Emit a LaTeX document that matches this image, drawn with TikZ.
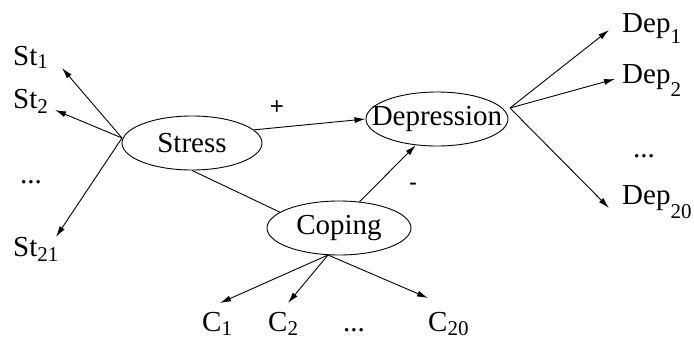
\documentclass[tikz,border=0pt]{standalone}
\usepackage{fontspec}
\setmainfont{Liberation Serif}
\newfontfamily\signfont{Liberation Sans}
\usetikzlibrary{shapes.geometric,arrows.meta}
% subscript lowered by a given amount
\newcommand\lowsub[2]{\raisebox{-#1}{\fontsize{21}{24}\selectfont #2}}

\begin{document}
\begin{tikzpicture}[x=1pt,y=-1pt,
    font=\fontsize{29}{34}\selectfont,
    latent/.style={draw, ellipse, inner xsep=-16pt, inner ysep=0pt, minimum height=54pt, line width=0.9pt},
    leaf/.style={anchor=base west, inner sep=0pt},
    sign/.style={font=\signfont\fontsize{24}{28}\selectfont, inner sep=0pt},
    arr/.style={line width=0.9pt, -{Latex[length=11pt,width=6pt]}}]
    \useasboundingbox (0,0) rectangle (694,341);

    % the three latent variables
    \node[latent, minimum width=140pt] (stress) at (192,143) {Stress};
    \node[latent, minimum width=142pt] (depression) at (437,119) {Depression};
    \node[latent, minimum width=144pt] (coping) at (339,228) {Coping};

    % indicators of stress
    \node[leaf] (st1) at (13,65) {St\lowsub{3pt}{1}};
    \node[leaf] (st2) at (13,108) {St\lowsub{5pt}{2}};
    \node[leaf] (stdots) at (20,183) {...};
    \node[leaf] (st21) at (13,256) {St\lowsub{5pt}{21}};
    \coordinate (st1-tip) at (62,68);
    \coordinate (st2-tip) at (55,110);
    \coordinate (st21-tip) at (56,237);

    % indicators of depression
    \node[leaf] (dep1) at (622,32) {Dep\lowsub{11pt}{1}};
    \node[leaf] (dep2) at (622,83) {Dep\lowsub{13pt}{2}};
    \node[leaf] (depdots) at (633,157) {...};
    \node[leaf] (dep20) at (622,204) {Dep\lowsub{14pt}{20}};
    \coordinate (dep1-tip) at (609,30);
    \coordinate (dep2-tip) at (615,79);
    \coordinate (dep20-tip) at (609,208);

    % indicators of coping
    \node[leaf] (c1) at (202,331) {C\lowsub{4pt}{1}};
    \node[leaf] (c2) at (268,331) {C\lowsub{4pt}{2}};
    \node[leaf] (cdots) at (343,331) {...};
    \node[leaf] (c20) at (428,331) {C\lowsub{4pt}{20}};
    \coordinate (c1-tip) at (220,303);
    \coordinate (c2-tip) at (288,303);
    \coordinate (c20-tip) at (428,298);

    \coordinate (stress-out) at (122,138);
    \coordinate (dep-out) at (510,108);
    \coordinate (coping-out) at (328,255);

    \draw[arr] (stress-out) -- (st1-tip);
    \draw[arr] (stress-out) -- (st2-tip);
    \draw[arr] (stress-out) -- (st21-tip);

    \draw[arr] (dep-out) -- (dep1-tip);
    \draw[arr] (dep-out) -- (dep2-tip);
    \draw[arr] (dep-out) -- (dep20-tip);

    \draw[arr] (coping-out) -- (c1-tip);
    \draw[arr] (coping-out) -- (c2-tip);
    \draw[arr] (coping-out) -- (c20-tip);

    % structural paths
    \draw[arr] (stress.12) -- (depression.west);
    \draw[arr] (coping.52) -- (depression.231);
    \draw[line width=0.9pt] (stress.south) -- (coping.165);

    \node[sign] (plus) at (277,108) {+};
    \node[sign] (minus) at (413,187) {-};
\end{tikzpicture}
\end{document}
